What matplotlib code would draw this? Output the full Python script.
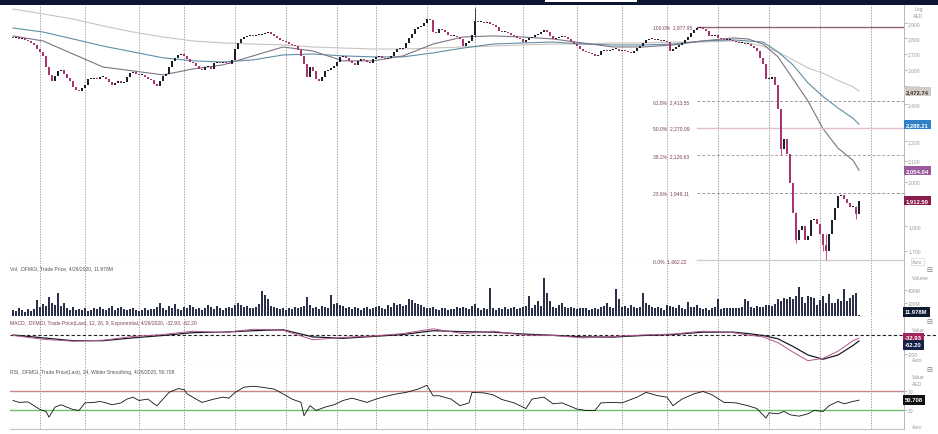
import numpy as np
import matplotlib
matplotlib.use("Agg")
import matplotlib.pyplot as plt
from matplotlib.ticker import FixedLocator, FixedFormatter, NullLocator
from matplotlib.transforms import blended_transform_factory
from matplotlib.patches import Rectangle

W, H = 938, 435

# ---------------- data ----------------
first_open = 2808
close = [
    2802, 2808, 2795, 2802, 2789, 2782, 2769, 2756, 2730, 2711,
    2686, 2617, 2569, 2533, 2562, 2593, 2599, 2575, 2551, 2533,
    2498, 2480, 2474, 2492, 2509, 2545, 2545, 2551, 2545, 2556,
    2556, 2545, 2527, 2509, 2521, 2533, 2521, 2527, 2556, 2581,
    2587, 2575, 2569, 2569, 2556, 2545, 2539, 2515, 2504, 2533,
    2562, 2575, 2617, 2655, 2674, 2692, 2698, 2686, 2667, 2648,
    2642, 2624, 2605, 2599, 2617, 2617, 2605, 2642, 2648, 2642,
    2648, 2642, 2636, 2661, 2730, 2769, 2795, 2808, 2815, 2821,
    2815, 2821, 2821, 2828, 2834, 2841, 2828, 2815, 2802, 2789,
    2782, 2775, 2762, 2756, 2749, 2724, 2686, 2636, 2556, 2617,
    2593, 2545, 2533, 2556, 2593, 2599, 2611, 2624, 2648, 2680,
    2686, 2674, 2655, 2642, 2630, 2655, 2667, 2661, 2648, 2642,
    2667, 2680, 2686, 2674, 2667, 2674, 2686, 2711, 2730, 2730,
    2736, 2769, 2802, 2828, 2861, 2875, 2881, 2902, 2929, 2922,
    2841, 2834, 2861, 2854, 2841, 2821, 2815, 2815, 2808, 2795,
    2749, 2769, 2782, 2821, 2916, 2909, 2909, 2902, 2909, 2895,
    2888, 2875, 2848, 2841, 2841, 2834, 2821, 2815, 2802, 2795,
    2775, 2789, 2802, 2808, 2821, 2828, 2841, 2854, 2841, 2815,
    2795, 2802, 2808, 2815, 2808, 2795, 2775, 2762, 2749, 2730,
    2717, 2711, 2705, 2698, 2686, 2692, 2717, 2724, 2717, 2724,
    2730, 2730, 2717, 2724, 2717, 2711, 2705, 2717, 2736, 2749,
    2769, 2789, 2795, 2795, 2789, 2789, 2782, 2782, 2775, 2717,
    2730, 2743, 2756, 2769, 2789, 2808, 2834, 2854, 2868, 2875,
    2861, 2848, 2815, 2815, 2821, 2802, 2795, 2789, 2789, 2789,
    2782, 2775, 2769, 2769, 2762, 2762, 2749, 2736, 2717, 2674,
    2636, 2545, 2545, 2556, 2509, 2371, 2161, 2212, 2136, 1991,
    1856, 1742, 1784, 1800, 1742, 1759, 1826, 1830, 1809, 1767,
    1722, 1699, 1767, 1826, 1878, 1931, 1940, 1918, 1900, 1886,
    1886, 1852, 1912.59,
]
# a few visible wick extremes: bar index -> (low, high)
wicks = {154: (2815, 3005), 256: (2130, 2300), 261: (1730, 1860),
         271: (1662.22, 1770), 270: (1700, 1770), 281: (1830, 1890)}

volume_m = [
    90, 70, 110, 80, 60, 95, 75, 100, 240, 130,
    180, 150, 290, 200, 170, 350, 150, 200, 110, 90,
    130, 80, 100, 90, 120, 70, 85, 110, 95, 130,
    100, 80, 120, 150, 90, 110, 140, 100, 80, 95,
    110, 85, 70, 90, 120, 80, 100, 95, 130, 200,
    110, 90, 150, 120, 180, 100, 90, 130, 110, 170,
    140, 100, 120, 90, 110, 160, 130, 100, 150, 120,
    90, 110, 140, 120, 160, 200, 170, 130, 150, 120,
    110, 140, 180, 370, 320, 250, 150, 130, 120, 100,
    110, 90, 120, 100, 140, 110, 130, 150, 290, 170,
    120, 140, 100, 150, 130, 110, 320, 180, 200, 160,
    150, 120, 140, 100, 130, 110, 90, 120, 140, 100,
    110, 130, 150, 120, 100, 170, 140, 190, 160, 180,
    150, 170, 250, 240, 200, 180, 160, 140, 120, 110,
    130, 100, 90, 110, 120, 80, 95, 100, 130, 110,
    140, 120, 100, 150, 180, 110, 90, 120, 100, 420,
    110, 90, 120, 100, 130, 95, 110, 140, 100, 120,
    130, 150, 300, 110, 160, 220, 150, 580, 350, 230,
    140, 110, 170, 190, 130, 120, 140, 110, 100, 120,
    115, 110, 90, 100, 120, 100, 130, 150, 190, 130,
    120, 410, 260, 130, 150, 110, 160, 140, 120, 130,
    340, 200, 160, 130, 120, 140, 110, 90, 170, 150,
    130, 110, 170, 120, 100, 210, 140, 130, 160, 110,
    100, 120, 90, 110, 130, 250, 100, 110, 120, 115,
    120, 115, 110, 130, 250, 230, 140, 120, 150, 130,
    140, 160, 170, 150, 180, 260, 230, 270, 250, 290,
    250, 300, 440, 280, 200, 300, 290, 270, 160, 240,
    300, 200, 330, 190, 200, 250, 230, 410, 220, 270,
    320, 350, 11.978,
]

sample_idx = [0, 10, 20, 30, 40, 50, 60, 70, 80, 90, 100, 110, 120, 130, 140,
              150, 160, 170, 180, 190, 200, 210, 220, 230, 240, 245, 250, 255,
              260, 265, 270, 275, 280, 282]
ma_slow = [2999, 2964, 2929, 2882, 2841, 2808, 2782, 2769, 2762, 2756, 2743,
           2736, 2730, 2730, 2736, 2743, 2749, 2756, 2762, 2762, 2769, 2769,
           2775, 2775, 2782, 2769, 2749, 2711, 2661, 2611, 2579, 2536, 2498,
           2472.74]
ma_mid = [2868, 2841, 2795, 2749, 2711, 2674, 2655, 2648, 2661, 2692, 2698,
          2686, 2680, 2680, 2705, 2736, 2762, 2769, 2775, 2762, 2756, 2756,
          2762, 2782, 2789, 2782, 2775, 2711, 2630, 2521, 2442, 2377, 2320,
          2288.21]
ma_fast = [2815, 2782, 2698, 2617, 2593, 2569, 2605, 2630, 2686, 2743, 2717,
           2655, 2655, 2686, 2762, 2808, 2815, 2808, 2795, 2769, 2743, 2743,
           2756, 2782, 2802, 2795, 2762, 2680, 2545, 2416, 2264, 2163, 2102,
           2054.04]
macd_line = [-5, -45, -65, -55, -15, 5, 40, 25, 60, 50, -50, -25, -10, 15, 65,
             15, 40, 0, -5, -30, -15, 0, 10, 40, 25, 0, -20, -80, -180, -270,
             -245, -170, -60, -32.93]
macd_signal = [0, -30, -60, -60, -30, -5, 25, 30, 45, 55, -20, -35, -15, 5, 45,
               35, 30, 10, -3, -20, -22, -5, 5, 30, 30, 15, -5, -40, -120, -210,
               -255, -210, -110, -62.20]

rsi_idx = [0, 2, 5, 7, 9, 11, 12, 14, 16, 18, 20, 22, 24, 27, 29, 31, 33, 36,
           38, 40, 42, 45, 47, 48, 50, 52, 55, 57, 58, 61, 63, 67, 70, 72, 74,
           77, 80, 83, 87, 90, 93, 96, 97, 99, 101, 104, 107, 110, 113, 118,
           121, 125, 128, 131, 135, 138, 140, 142, 146, 149, 152, 153, 157,
           160, 163, 167, 171, 173, 177, 180, 183, 188, 191, 194, 196, 200,
           203, 208, 211, 215, 218, 220, 223, 227, 230, 233, 237, 241, 245,
           248, 251, 252, 255, 257, 259, 262, 265, 267, 270, 272, 275, 277,
           280, 282]
rsi_val = [50, 46, 47, 39, 31, 27, 15, 36, 41, 36, 31, 29, 45, 46, 48, 45, 41,
           45, 53, 57, 50, 53, 43, 39, 53, 67, 75, 73, 64, 53, 46, 53, 57, 55,
           67, 78, 80, 78, 74, 64, 53, 46, 18, 39, 29, 36, 41, 50, 55, 46, 53,
           60, 64, 67, 74, 82, 60, 60, 53, 39, 45, 67, 66, 62, 52, 45, 33, 53,
           57, 43, 45, 32, 29, 29, 45, 46, 45, 57, 67, 60, 57, 39, 53, 64, 69,
           62, 46, 45, 39, 33, 13, 24, 22, 27, 20, 17, 22, 29, 27, 39, 48, 43,
           48, 50.708]

month_start_idx = [9, 24, 42, 57, 74, 91, 108, 121, 138, 154, 170, 188, 203,
                   218, 235, 252, 269, 286]

fib_pct = ["100.0%", "61.8%", "50.0%", "38.2%", "23.6%", "0.0%"]
fib_level = [2877.95, 2413.55, 2270.09, 2126.63, 1949.11, 1662.22]
fib_start_idx = 228

price_ticks = [1700, 1800, 1900, 2000, 2100, 2200, 2300, 2400, 2500, 2600,
               2700, 2800, 2900]
# tick labels covered by the value boxes in the reference
hidden_tick_labels = [1900, 2300]

# ---------------- figure ----------------
plt.rcParams['font.family'] = ['Liberation Sans', 'DejaVu Sans']
fig = plt.figure(figsize=(W / 100, H / 100), dpi=100)
fig.patch.set_facecolor('white')

def add_ax(top_px, bottom_px):
    return fig.add_axes([10 / W, 1 - bottom_px / H, 894 / W,
                         (bottom_px - top_px) / H])

def ftext(px, py, s, **kw):
    fig.text(px / W, 1 - py / H, s, va='center', ha='left', **kw)

ax = add_ax(6, 265)
axv = add_ax(265, 318)
axm = add_ax(318, 366)
axr = add_ax(366, 430)

XL = (-1, 297)
sep_col = '#c4c4c4'
for a in (ax, axv, axm, axr):
    a.set_xlim(*XL)
    a.set_facecolor('white')
    for s in ('left', 'top'):
        a.spines[s].set_visible(False)
    a.spines['bottom'].set_color(sep_col)
    a.spines['bottom'].set_linewidth(0.8)
    a.spines['right'].set_color('#b8b8b8')
    a.spines['right'].set_linewidth(0.7)
    a.xaxis.set_major_locator(NullLocator())
    a.xaxis.set_minor_locator(NullLocator())
    a.yaxis.tick_right()
    a.tick_params(axis='y', which='both', direction='out', length=2,
                  width=0.5, colors='#9a9a9a', labelsize=3.6, pad=1)
    for m in month_start_idx:
        a.axvline(m, color='#8e8e8e', lw=0.6, ls=(0, (1.6, 1.6)), zorder=1)

# ---- price panel ----
c = np.array(close, dtype=float)
o = np.concatenate([[first_open], c[:-1]])
x = np.arange(len(c))
lo = np.minimum(o, c)
hi = np.maximum(o, c)
hgt = np.maximum(hi - lo, hi * 0.0016)
up = c >= o
up_col, dn_col = '#1d1d2b', '#a8356f'
for k, (l, h) in wicks.items():
    ax.vlines(k, l, h, color=up_col if up[k] else dn_col, lw=0.6, zorder=3)
ax.bar(x[up], hgt[up], bottom=lo[up], width=0.6, color=up_col, zorder=3,
       linewidth=0)
ax.bar(x[~up], hgt[~up], bottom=lo[~up], width=0.6, color=dn_col, zorder=3,
       linewidth=0)

ax.plot(sample_idx, ma_slow, color='#cbc3bd', lw=0.8, zorder=2)
ax.plot(sample_idx, ma_mid, color='#5f8ea6', lw=0.8, zorder=2)
ax.plot(sample_idx, ma_fast, color='#7c7482', lw=0.8, zorder=2)

ax.set_yscale('log')
ax.set_ylim(1648, 3027)
ax.yaxis.set_major_locator(FixedLocator(price_ticks))
ax.yaxis.set_major_formatter(FixedFormatter(
    ["" if t in hidden_tick_labels else f"{t:,}" for t in price_ticks]))
ax.yaxis.set_minor_locator(NullLocator())

fib_styles = [('-', '#8d6577', 1.0), ((0, (3, 2)), '#9a9a9a', 0.7),
              ('-', '#e2bccb', 1.0), ((0, (3, 2)), '#a8a8a8', 0.7),
              ((0, (3, 2)), '#9a9a9a', 0.7), ('-', '#d0d0d0', 1.0)]
for pct, lvl, (ls, col, lw) in zip(fib_pct, fib_level, fib_styles):
    ax.plot([fib_start_idx, XL[1]], [lvl, lvl], ls=ls, color=col, lw=lw,
            zorder=2)
    ax.text(213.3, lvl, f"{pct}  {lvl:,.2f}", fontsize=3.6, color='#7a3f5f',
            va='center', ha='left', zorder=4)

tr = blended_transform_factory(ax.transAxes, ax.transData)
box_specs = [(ma_slow[-1], '#d3cbc5', '#333333'),
             (ma_mid[-1], '#2f80c8', 'white'),
             (ma_fast[-1], '#9a5a9c', 'white'),
             (close[-1], '#8c1c4c', 'white')]
for val, bg, fg in box_specs:
    ax.text(1.002, val, f"{val:,.2f}", transform=tr, fontsize=4.2, color=fg,
            va='center', ha='left', fontweight='bold', zorder=6,
            bbox=dict(boxstyle='square,pad=0.35', fc=bg, ec='none'))

ftext(915, 9, "Log", fontsize=3.6, color='#9a9a9a')
ftext(913, 16, "AED", fontsize=3.6, color='#9a9a9a')
ftext(912, 262, "Auto", fontsize=3.6, color='#9a9a9a',
      bbox=dict(boxstyle='square,pad=0.2', fc='white', ec='#cccccc', lw=0.4))

# ---- volume panel ----
xv = np.arange(len(volume_m))
axv.bar(xv, volume_m, width=0.7, color='#2b3048', linewidth=0, zorder=3)
axv.set_ylim(-20, 790)
axv.yaxis.set_major_locator(FixedLocator([200, 400]))
axv.yaxis.set_major_formatter(FixedFormatter(["200M", "400M"]))
axv.text(0.0, 0.92, "Vol, .DFMGI, Trade Price, 4/26/2020, 11.978M",
         transform=axv.transAxes, fontsize=3.6, color='#555555', va='center',
         ha='left')
ftext(912, 278, "Volume", fontsize=3.6, color='#9a9a9a')
ftext(905, 313, f"{volume_m[-1]:.3f}M", fontsize=4.2, color='white',
      fontweight='bold',
      bbox=dict(boxstyle='square,pad=0.35', fc='#0f1a30', ec='none'))

# ---- MACD panel ----
axm.plot(sample_idx, macd_signal, color='#1c1c28', lw=0.9, zorder=3)
axm.plot(sample_idx, macd_line, color='#b5558a', lw=0.7, zorder=3)
axm.plot([XL[0], 308.3], [0, 0], color='#222222', lw=0.8, ls=(0, (3, 2)),
         zorder=2, clip_on=False)
axm.set_ylim(-315, 189)
axm.yaxis.set_major_locator(FixedLocator([-200]))
axm.yaxis.set_major_formatter(FixedFormatter(["-200"]))
axm.text(0.0, 0.88, "MACD, .DFMGI, Trade Price(Last), 12, 26, 9, Exponential, "
         "4/26/2020, -32.93, -62.20", transform=axm.transAxes, fontsize=3.6,
         color='#7a3f5f', va='center', ha='left')
ftext(912, 331, "Value", fontsize=3.6, color='#9a9a9a')
ftext(905, 339, f"{macd_line[-1]:.2f}", fontsize=4.2, color='white',
      fontweight='bold',
      bbox=dict(boxstyle='square,pad=0.35', fc='#a3245c', ec='none'))
ftext(905, 346, f"{macd_signal[-1]:.2f}", fontsize=4.2, color='white',
      fontweight='bold',
      bbox=dict(boxstyle='square,pad=0.35', fc='#16224a', ec='none'))
ftext(912, 361, "Auto", fontsize=3.6, color='#9a9a9a')

# ---- RSI panel ----
axr.plot(rsi_idx, rsi_val, color='#111111', lw=0.6, zorder=3)
axr.axhline(70, color='#c48a8a', lw=1.0, zorder=2)
axr.axhline(30, color='#6cc06c', lw=1.0, zorder=2)
axr.set_ylim(-10, 124.7)
axr.yaxis.set_major_locator(FixedLocator([30, 70]))
axr.yaxis.set_major_formatter(FixedFormatter(["30", "70"]))
axr.text(0.0, 0.9, "RSI, .DFMGI, Trade Price(Last), 14, Wilder Smoothing, "
         "4/26/2020, 50.708", transform=axr.transAxes, fontsize=3.6,
         color='#555555', va='center', ha='left')
ftext(912, 378, "Value", fontsize=3.6, color='#9a9a9a')
ftext(912, 385, "AED", fontsize=3.6, color='#9a9a9a')
ftext(905, 401, f"{rsi_val[-1]:.3f}", fontsize=4.2, color='white',
      fontweight='bold',
      bbox=dict(boxstyle='square,pad=0.35', fc='#111111', ec='none'))
ftext(912, 428, "Auto", fontsize=3.6, color='#9a9a9a')

for py in (270, 322, 370):
    ftext(926, py, "\u229f", fontsize=5, color='#777777',
          family=['DejaVu Sans'])

# ---- top band ----
fig.patches.append(Rectangle((0, 1 - 6 / H), 1, 6 / H, transform=fig.transFigure,
                             fc='#0b1633', ec='none', zorder=10))
fig.patches.append(Rectangle((545 / W, 1 - 3 / H), 92 / W, 3 / H,
                             transform=fig.transFigure, fc='white', ec='none',
                             zorder=11))

fig.savefig("out.png", dpi=100, facecolor='white')
